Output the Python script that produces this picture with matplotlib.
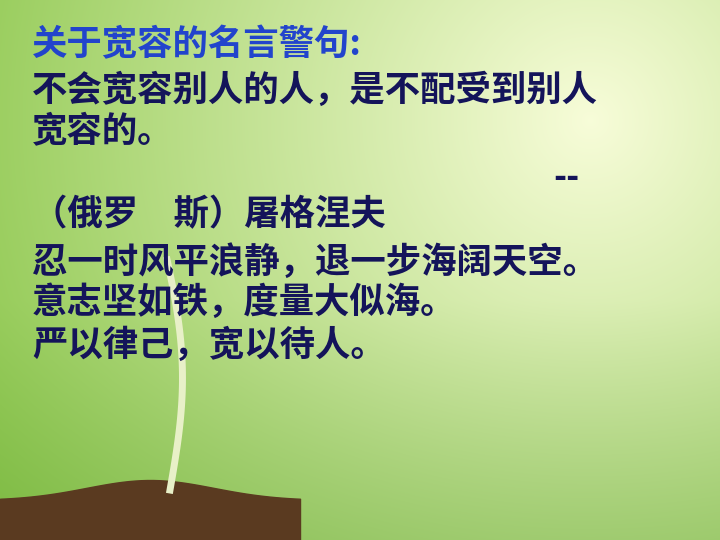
import numpy as np
import matplotlib
matplotlib.use("Agg")
import matplotlib.pyplot as plt

plt.rcParams['font.family'] = ['Noto Sans CJK SC', 'DejaVu Sans']

title = "关于宽容的名言警句:"
lines = ["不会宽容别人的人，是不配受到别人", "宽容的。", "（俄罗　斯）屠格涅夫",
         "忍一时风平浪静，退一步海阔天空。", "意志坚如铁，度量大似海。", "严以律己，宽以待人。"]
line_y = [90, 132, 215, 262, 302, 345]
dash_text = "--"

fig = plt.figure(figsize=(7.2, 5.4), dpi=100)
ax = fig.add_axes([0, 0, 1, 1])
ax.set_xlim(0, 720); ax.set_ylim(540, 0); ax.axis('off')

yy, xx = np.mgrid[0:540, 0:720]
d = np.sqrt((xx - 590) ** 2 + (yy - 120) ** 2) / 700.0
d = np.clip(d, 0, 1)
c0 = np.array([0.97, 0.99, 0.85]); c1 = np.array([0.55, 0.78, 0.30])
img = c0[None, None, :] * (1 - d[..., None]) + c1[None, None, :] * d[..., None]
dark = np.clip((yy - 300) / 240.0, 0, 1)[..., None] * 0.25
img = img * (1 - dark) + np.array([0.35, 0.6, 0.2]) * dark
ax.imshow(img, extent=[0, 720, 540, 0], zorder=0)

xs = np.linspace(0, 300, 50)
top = 500 - 20 * np.exp(-((xs - 150) / 90) ** 2)
ax.fill_between(xs, top, 540, color='#5a3a20', zorder=1)
t = np.linspace(0, 1, 50)
ax.plot(170 + 15 * np.sin(t * 3) - 5 * t, 490 - 230 * t, color='#e8f0c8', lw=5, zorder=2)

fs = 25.5
ax.text(32, 45, title, color='#2244cc', fontsize=fs, fontweight='bold', va='center', zorder=3)
for s, y in zip(lines, line_y):
    ax.text(32, y, s, color='#14145a', fontsize=fs, fontweight='bold', va='center', zorder=3)
ax.text(553, 178, dash_text, color='#14145a', fontsize=fs, fontweight='bold', va='center', zorder=3)

fig.savefig("out.png", dpi=100)
